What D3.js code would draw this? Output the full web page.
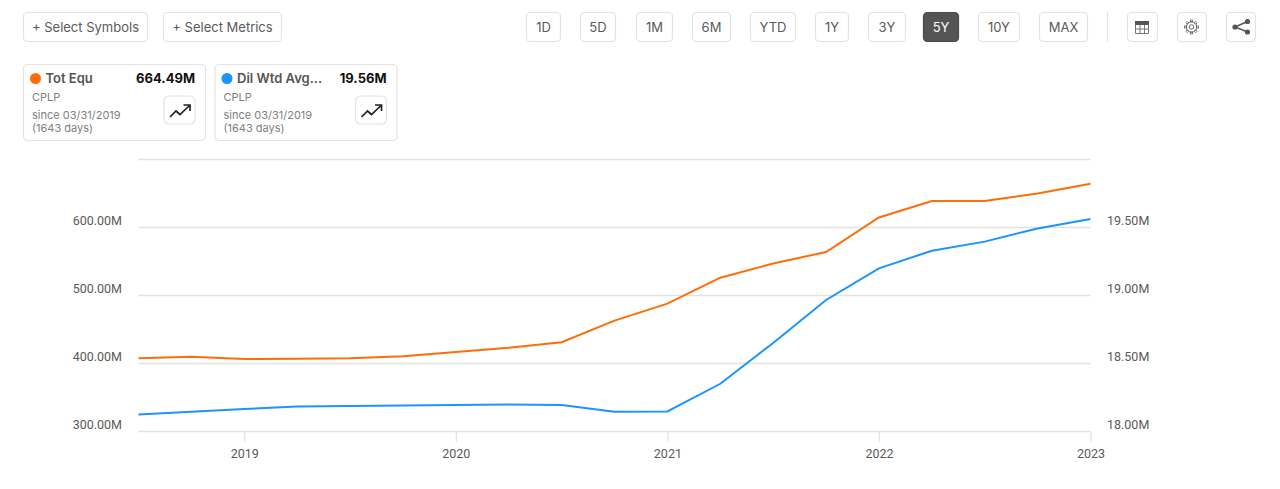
<!DOCTYPE html>
<html>
<head>
<meta charset="utf-8">
<script src="https://cdn.jsdelivr.net/npm/d3@7"></script>
<style>
  html, body { margin: 0; padding: 0; background: #fff; overflow: hidden; }
  text { font-family: Inter, "Noto Sans", sans-serif; }
</style>
</head>
<body>
<svg id="chart" width="1280" height="489"></svg>
<script>
// quarterly points
const quarters = ["2018-07","2018-10","2019-01","2019-04","2019-07","2019-10",
  "2020-01","2020-04","2020-07","2020-10","2021-01","2021-04","2021-07",
  "2021-10","2022-01","2022-04","2022-07","2022-10","2023-01"];
const totEqu = [407.6,410,406.6,407,407.6,410.6,417,423.2,431.2,463,488,526.2,547,564,614.7,639,639,650,664.49];
const dilWtd = [18.125,18.146,18.165,18.184,18.188,18.191,18.195,18.199,18.195,18.146,18.147,18.351,18.651,18.967,19.2,19.329,19.396,19.493,19.5625];

const leftTicks = [300,400,500,600];
const rightTicks = [18,18.5,19,19.5];
const gridValues = [300,400,500,600,700];
const yearTicks = ["2019-01","2020-01","2021-01","2022-01","2023-01"];

const toolButtons = ["+ Select Symbols","+ Select Metrics"];
const rangeButtons = ["1D","5D","1M","6M","YTD","1Y","3Y","5Y","10Y","MAX"];
const activeRange = "5Y";
const cardNames = ["Tot Equ","Dil Wtd Avg..."];
const cardValues = ["664.49M","19.56M"];
const cardSymbol = "CPLP";
const cardSince = "since 03/31/2019";
const cardDays = "(1643 days)";

const ORANGE = "#ff6c0a", BLUE = "#1a94ff", BORDER = "#e3e3e3", GRID = "#e2e2e2", LABEL = "#5a5a5a";

const svg = d3.select("#chart");

const x = d3.scalePoint().domain(quarters).range([138.5, 1090.5]);
const yLeft = d3.scaleLinear().domain([300,700]).range([431.5,159.5]);
const yRight = d3.scaleLinear().domain([18,20]).range([431.5,159.5]);

// gridlines
svg.append("g").selectAll("line").data(gridValues).join("line")
  .attr("x1", x.range()[0]).attr("x2", x.range()[1])
  .attr("y1", d => yLeft(d)).attr("y2", d => yLeft(d))
  .attr("stroke", GRID).attr("stroke-width", 1.3);

// left axis, labels sit above their gridline
const gLeft = svg.append("g").attr("transform", "translate(122,-7)")
  .call(d3.axisLeft(yLeft).tickValues(leftTicks).tickSize(0).tickPadding(0).tickFormat(d => d3.format(".2f")(d) + "M"));
const gRight = svg.append("g").attr("transform", "translate(1107,-7)")
  .call(d3.axisRight(yRight).tickValues(rightTicks).tickSize(0).tickPadding(0).tickFormat(d => d3.format(".2f")(d) + "M"));

// x axis
const gBottom = svg.append("g").attr("transform", "translate(0,431.5)")
  .call(d3.axisBottom(x).tickValues(yearTicks).tickSize(10).tickPadding(8).tickFormat(d => d.slice(0, 4)));
gBottom.selectAll("line").attr("stroke", GRID).attr("stroke-width", 1.3);

[gLeft, gRight, gBottom].forEach(g => {
  g.select(".domain").remove();
  g.selectAll("text").attr("fill", LABEL).style("font-family", "Roboto, sans-serif").style("font-size", "12.5px");
});

// lines
const lineLeft = d3.line().x((d, i) => x(quarters[i])).y(d => yLeft(d));
const lineRight = d3.line().x((d, i) => x(quarters[i])).y(d => yRight(d));
svg.append("path").attr("d", lineLeft(totEqu)).attr("fill", "none").attr("stroke", ORANGE).attr("stroke-width", 2);
svg.append("path").attr("d", lineRight(dilWtd)).attr("fill", "none").attr("stroke", BLUE).attr("stroke-width", 2);

// toolbar
function button(g, x0, w, label, active) {
  g.append("rect").attr("x", x0 + .5).attr("y", 12.5).attr("width", w).attr("height", 29).attr("rx", 4)
    .attr("fill", active ? "#555" : "#fff").attr("stroke", active ? "#4a4a4a" : BORDER).attr("stroke-width", 1.2);
  if (label) g.append("text").attr("x", x0 + w / 2 + .5).attr("y", 32).attr("text-anchor", "middle")
    .attr("font-size", 13).attr("fill", active ? "#fff" : LABEL).text(label);
}
const bar = svg.append("g");
const toolBox = [[23,124],[163,118]];
toolButtons.forEach((t, i) => button(bar, toolBox[i][0], toolBox[i][1], t));
const rangeBox = [[526,34],[580,35],[636,36],[692,38],[750,45],[815,33],[868,37],[923,35],[978,41],[1039,48]];
rangeButtons.forEach((t, i) => button(bar, rangeBox[i][0], rangeBox[i][1], t, t === activeRange));
bar.append("line").attr("x1", 1107.5).attr("x2", 1107.5).attr("y1", 12).attr("y2", 42).attr("stroke", BORDER).attr("stroke-width", 1.2);
[[1127,30],[1177,29],[1226,29]].forEach(b => button(bar, b[0], b[1]));

// table icon
const tbl = bar.append("g").attr("transform", "translate(1135,20)");
tbl.append("rect").attr("width", 14).attr("height", 4).attr("y", 1).attr("fill", "#555");
tbl.append("path").attr("d", "M.5 5V13.5H13.5V5M.5 9H13.5M.5 5M5 5V13.5M9.5 5V13.5").attr("fill", "none").attr("stroke", "#777").attr("stroke-width", 1);
// gear icon
const gear = bar.append("g").attr("transform", "translate(1191.5,27)");
gear.append("circle").attr("r", 2.3).attr("fill", "none").attr("stroke", "#666").attr("stroke-width", 1);
gear.append("circle").attr("r", 5.2).attr("fill", "none").attr("stroke", "#666").attr("stroke-width", 1);
d3.range(8).forEach(i => gear.append("rect").attr("x", -1).attr("y", -7).attr("width", 2).attr("height", 2)
  .attr("fill", "none").attr("stroke", "#666").attr("stroke-width", .8).attr("transform", `rotate(${i * 45})`));
// share icon
const share = bar.append("g").attr("transform", "translate(1241,27)");
share.append("path").attr("d", "M6.5 -5.5L-6 0L6.5 5").attr("fill", "none").attr("stroke", "#555").attr("stroke-width", 1.4);
[[6.5,-5.5],[-6,0],[6.5,5]].forEach(p => share.append("circle").attr("cx", p[0]).attr("cy", p[1]).attr("r", 2.6).attr("fill", "#555"));

// metric cards
const cardX = [23,214.5];
const cardColor = [ORANGE, BLUE];
cardNames.forEach((name, i) => {
  const g = svg.append("g").attr("transform", `translate(${cardX[i]},0)`);
  g.append("rect").attr("x", .5).attr("y", 64.5).attr("width", 182).attr("height", 76).attr("rx", 4)
    .attr("fill", "#fff").attr("stroke", BORDER).attr("stroke-width", 1.2);
  g.append("circle").attr("cx", 12.5).attr("cy", 78.5).attr("r", 5.5).attr("fill", cardColor[i]);
  g.append("text").attr("x", 22.5).attr("y", 83).attr("font-size", 13).attr("font-weight", 600).attr("fill", "#555").text(name);
  g.append("text").attr("x", 172).attr("y", 83).attr("text-anchor", "end").attr("font-size", 13).attr("font-weight", 700).attr("fill", "#111").text(cardValues[i]);
  [[cardSymbol,101],[cardSince,119],[cardDays,132]].forEach(t =>
    g.append("text").attr("x", 9).attr("y", t[1]).attr("font-size", 11).attr("fill", "#808080").text(t[0]));
  g.append("rect").attr("x", 141).attr("y", 96).attr("width", 31).attr("height", 28).attr("rx", 5)
    .attr("fill", "#fff").attr("stroke", BORDER).attr("stroke-width", 1.2);
  g.append("path").attr("d", "M147 117L153 111L157 114.5L166 106M160.5 105H167V111").attr("fill", "none")
    .attr("stroke", "#222").attr("stroke-width", 1.7);
});
</script>
</body>
</html>
